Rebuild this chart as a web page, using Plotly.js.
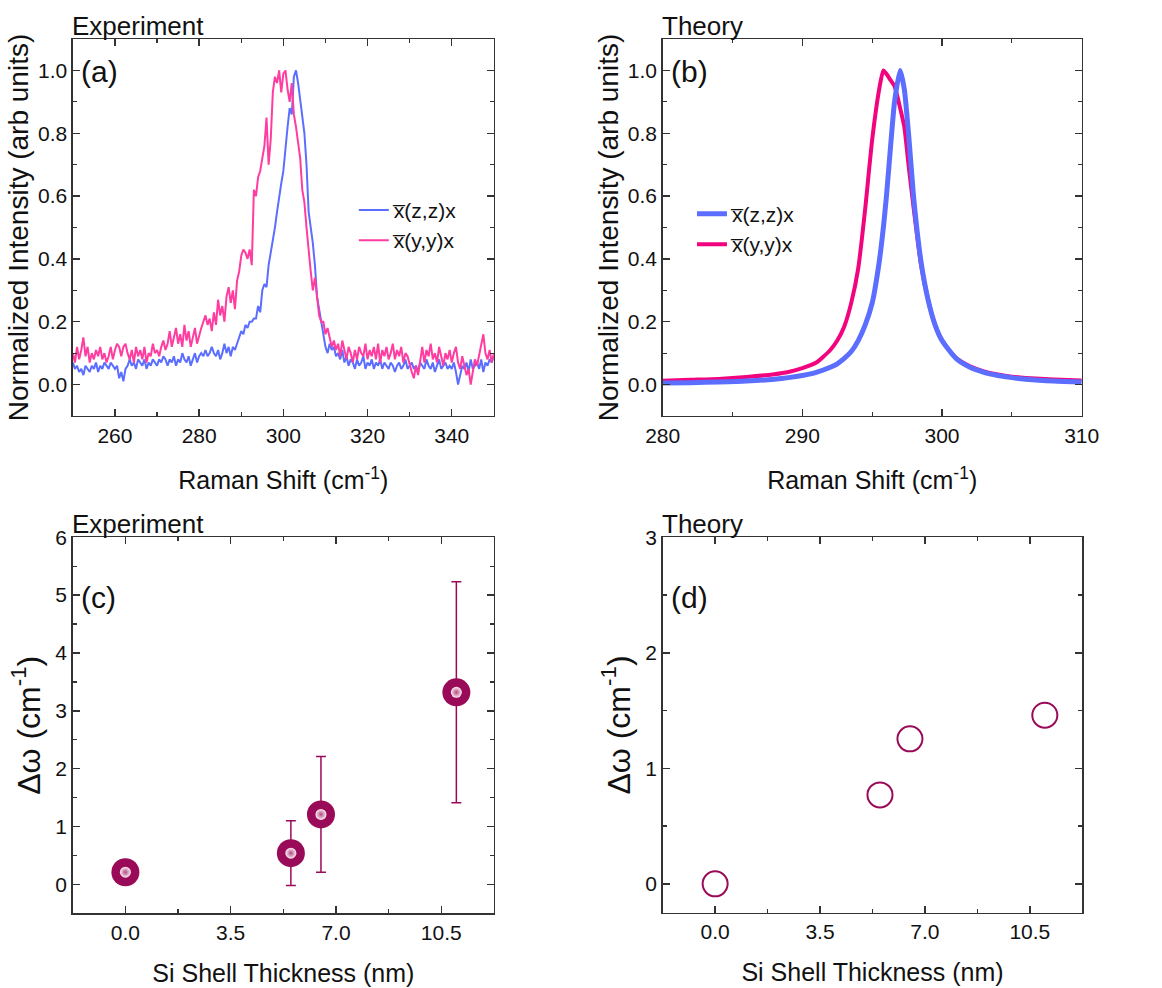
<!DOCTYPE html>
<html>
<head>
<meta charset="utf-8">
<script src="https://cdn.plot.ly/plotly-3.0.1.min.js"></script>
<style>html,body{margin:0;padding:0;background:#fff;}#chart{width:1162px;height:988px;}</style>
</head>
<body>
<div id="chart"></div>
<script>
// ---------- Panel (a): experiment spectra (0.5 cm-1 sampling, 250..350) ----------
const expStart = 250, expStep = 0.5;
const expZZ = [
0.07,0.05,0.06,0.04,0.05,0.03,0.06,0.05,0.04,0.06,0.05,0.07,0.04,0.06,0.05,0.07,0.06,0.05,0.07,0.06,0.05,
0.06,0.02,0.04,0.01,0.05,0.06,0.08,0.06,0.07,0.05,0.08,0.07,0.06,0.08,0.05,0.07,0.06,0.08,0.07,0.06,
0.08,0.07,0.09,0.08,0.06,0.08,0.07,0.09,0.06,0.08,0.07,0.10,0.08,0.07,0.09,0.06,0.08,0.10,0.07,0.09,
0.10,0.09,0.11,0.09,0.10,0.12,0.10,0.09,0.11,0.08,0.10,0.13,0.10,0.12,0.09,0.12,0.11,0.13,0.15,0.17,
0.16,0.19,0.18,0.20,0.20,0.21,0.21,0.25,0.23,0.30,0.32,0.31,0.38,0.42,0.45,0.50,0.55,0.60,0.64,0.68,
0.76,0.82,0.88,0.86,0.98,1.00,0.96,0.90,0.86,0.80,0.70,0.55,0.50,0.45,0.38,0.28,0.24,0.20,0.16,0.12,
0.10,0.13,0.11,0.12,0.09,0.10,0.08,0.11,0.07,0.09,0.06,0.08,0.07,0.05,0.08,0.06,0.07,0.09,0.05,0.07,
0.06,0.08,0.05,0.07,0.06,0.08,0.05,0.07,0.06,0.05,0.07,0.06,0.04,0.06,0.07,0.05,0.06,0.08,0.05,0.06,
0.07,0.05,0.06,0.04,0.07,0.06,0.05,0.08,0.06,0.05,0.07,0.04,0.06,0.08,0.05,0.06,0.07,0.05,0.06,0.05,
0.07,0.04,0.00,0.03,0.06,0.05,0.07,0.04,0.08,0.05,0.06,0.07,0.05,0.08,0.04,0.07,0.06,0.08,0.07,0.09
];
const expYY = [
0.10,0.07,0.12,0.08,0.11,0.15,0.09,0.12,0.07,0.10,0.08,0.11,0.09,0.12,0.08,0.10,0.07,0.09,0.12,0.08,0.11,
0.13,0.12,0.09,0.12,0.13,0.10,0.08,0.11,0.07,0.12,0.09,0.11,0.08,0.12,0.07,0.10,0.09,0.13,0.10,0.11,
0.09,0.12,0.14,0.11,0.13,0.17,0.12,0.15,0.18,0.13,0.16,0.12,0.19,0.14,0.17,0.12,0.15,0.18,0.13,0.16,
0.18,0.20,0.22,0.19,0.21,0.17,0.23,0.19,0.27,0.22,0.25,0.20,0.28,0.31,0.26,0.30,0.24,0.33,0.36,0.41,
0.43,0.42,0.40,0.43,0.38,0.62,0.60,0.66,0.68,0.72,0.76,0.85,0.70,0.78,0.93,0.98,0.96,1.00,0.93,0.99,
1.00,0.94,0.90,0.96,0.86,0.82,0.76,0.72,0.62,0.58,0.50,0.42,0.36,0.30,0.34,0.28,0.22,0.20,0.20,0.16,
0.18,0.15,0.12,0.14,0.11,0.13,0.09,0.14,0.11,0.08,0.12,0.10,0.07,0.11,0.08,0.12,0.10,0.09,0.13,0.08,
0.11,0.09,0.12,0.08,0.13,0.07,0.11,0.09,0.12,0.08,0.10,0.13,0.08,0.11,0.09,0.12,0.07,0.10,0.09,0.06,
0.04,0.02,0.06,0.03,0.08,0.12,0.07,0.11,0.09,0.13,0.08,0.10,0.07,0.12,0.09,0.06,0.10,0.08,0.11,0.07,
0.10,0.12,0.07,0.05,0.09,0.06,0.03,0.05,0.00,0.04,0.08,0.06,0.09,0.12,0.16,0.10,0.08,0.11,0.07,0.10
];
const expShift = expZZ.map((_, i) => expStart + i * expStep);

// ---------- Panel (b): theory spectra ----------
const theoryShift = [280,282,284,286,288,289,290,291,292,292.5,293,293.5,294,294.5,295,295.5,295.8,296,296.3,296.6,297,297.3,297.6,298,298.5,299,299.5,300,301,302,303,304,305,306,308,310];
const theoryZZ = [0.005,0.006,0.008,0.011,0.017,0.022,0.029,0.039,0.055,0.066,0.083,0.105,0.14,0.19,0.26,0.39,0.50,0.59,0.75,0.90,1.00,0.94,0.80,0.58,0.39,0.27,0.19,0.14,0.083,0.055,0.039,0.029,0.022,0.017,0.011,0.008];
const theoryYY = [0.012,0.015,0.018,0.024,0.033,0.040,0.052,0.070,0.110,0.140,0.185,0.26,0.37,0.56,0.78,0.94,1.00,0.99,0.97,0.95,0.88,0.82,0.70,0.55,0.38,0.27,0.19,0.14,0.085,0.058,0.042,0.032,0.025,0.021,0.016,0.013];

// ---------- Panels (c) & (d): shift vs shell thickness ----------
const shellExp = [0, 5.5, 6.5, 11.0];
const deltaExp = [0.21, 0.54, 1.21, 3.32];
const deltaExpErr = [0, 0.56, 1.0, 1.91];
const shellTheory = [0, 5.5, 6.5, 11.0];
const deltaTheory = [0.0, 0.77, 1.255, 1.46];

const legendZZ = 'x\u0305(z,z)x';
const legendYY = 'x\u0305(y,y)x';
const tickThick = ['0.0','3.5','7.0','10.5'];

const FONT = 'Arial, "Liberation Sans", sans-serif';
const BLUE = '#5b6eff';
const PINK_A = '#ff3ca0';
const PINK_B = '#f2047f';
const WINE = '#990a58';
const TXT = '#111';

const traces = [
  {x: expShift, y: expZZ, xaxis:'x', yaxis:'y', mode:'lines', name: legendZZ, line:{color:BLUE, width:2}, legend:'legend'},
  {x: expShift, y: expYY, xaxis:'x', yaxis:'y', mode:'lines', name: legendYY, line:{color:PINK_A, width:2}, legend:'legend'},
  {x: theoryShift, y: theoryYY, xaxis:'x2', yaxis:'y2', mode:'lines', name: legendYY, line:{color:PINK_B, width:4, shape:'spline', smoothing:0.6}, legend:'legend2', legendrank:2},
  {x: theoryShift, y: theoryZZ, xaxis:'x2', yaxis:'y2', mode:'lines', name: legendZZ, line:{color:BLUE, width:5, shape:'spline', smoothing:0.6}, legend:'legend2', legendrank:1},
  {x: shellExp, y: deltaExp, xaxis:'x3', yaxis:'y3', mode:'markers', showlegend:false,
   error_y:{type:'data', array: deltaExpErr, visible:true, color:WINE, thickness:1.5, width:5},
   marker:{size:28, color:WINE, line:{width:0}}},
  {x: shellExp, y: deltaExp, xaxis:'x3', yaxis:'y3', mode:'markers', showlegend:false, hoverinfo:'skip',
   marker:{size:11, color:'#fdeef5', gradient:{type:'radial', color:'#b24a82'}, line:{width:0}}},
  {x: shellTheory, y: deltaTheory, xaxis:'x4', yaxis:'y4', mode:'markers', showlegend:false,
   marker:{size:25, symbol:'circle-open', color:WINE, line:{width:2, color:WINE}}}
];

const MINOR = {ticks:'inside', ticklen:4, tickwidth:1.2, tickcolor:'#333', showgrid:false};
function axis(extra, minorExtra, titleText, titleSize, standoff){
  return Object.assign({
    showgrid:false, zeroline:false, showline:true, linecolor:'#333', linewidth:1.5,
    mirror:'allticks', ticks:'inside', ticklen:7, tickwidth:1.5, tickcolor:'#333',
    tickfont:{family:FONT, size:21, color:TXT},
    minor:Object.assign({}, MINOR, minorExtra),
    title:{text:titleText, standoff:standoff, font:{family:FONT, size:titleSize, color:TXT}}
  }, extra);
}

const RAMAN = 'Raman Shift (cm<sup>-1</sup>)';
const NORM = 'Normalized Intensity (arb units)';
const SHELL = 'Si Shell Thickness (nm)';
const DW = '\u0394\u03c9 (cm<sup>-1</sup>)';

const layout = {
  width:1162, height:988, margin:{l:0,r:0,t:0,b:0},
  paper_bgcolor:'#fff', plot_bgcolor:'#fff',
  font:{family:FONT, color:TXT},
  xaxis: axis({domain:[0.0627,0.4250], range:[250,350], tick0:260, dtick:20, anchor:'y'}, {dtick:10}, RAMAN, 25, 26),
  yaxis: axis({domain:[0.579,0.9605], range:[-0.1,1.1], tick0:0, dtick:0.2, tickformat:'.1f', anchor:'x'}, {dtick:0.1}, NORM, 28, 1),
  xaxis2: axis({domain:[0.5703,0.9309], range:[280,310], tick0:280, dtick:10, anchor:'y2'}, {dtick:5}, RAMAN, 25, 26),
  yaxis2: axis({domain:[0.579,0.9605], range:[-0.1,1.1], tick0:0, dtick:0.2, tickformat:'.1f', anchor:'x2'}, {dtick:0.1}, NORM, 28, 1),
  xaxis3: axis({domain:[0.0626,0.4251], range:[-1.75,12.25], tickvals:[0,3.5,7,10.5], ticktext:tickThick, anchor:'y3'}, {dtick:1.75, tick0:0}, SHELL, 25, 21),
  yaxis3: axis({domain:[0.0756,0.4562], range:[-0.5,6], tick0:0, dtick:1, anchor:'x3'}, {dtick:0.5}, DW, 32, 5),
  xaxis4: axis({domain:[0.5703,0.9314], range:[-1.75,12.25], tickvals:[0,3.5,7,10.5], ticktext:tickThick, anchor:'y4'}, {dtick:1.75, tick0:0}, SHELL, 25, 21),
  yaxis4: axis({domain:[0.0762,0.4562], range:[-0.25,3], tick0:0, dtick:1, anchor:'x4'}, {dtick:0.5}, DW, 32, 5),
  legend: {x:0.3045, y:0.772, xanchor:'left', yanchor:'middle', bgcolor:'rgba(0,0,0,0)', borderwidth:0,
    font:{family:FONT, size:21, color:TXT}},
  legend2: {x:0.5955, y:0.768, xanchor:'left', yanchor:'middle', bgcolor:'rgba(0,0,0,0)', borderwidth:0,
    font:{family:FONT, size:21, color:TXT}, traceorder:'normal'},
  annotations: [
    {text:'Experiment', xref:'x domain', yref:'y domain', x:0, y:1, xanchor:'left', yanchor:'bottom', showarrow:false, font:{family:FONT, size:26, color:TXT}, xshift:-3, yshift:-4},
    {text:'Theory', xref:'x2 domain', yref:'y2 domain', x:0, y:1, xanchor:'left', yanchor:'bottom', showarrow:false, font:{family:FONT, size:26, color:TXT}, xshift:-3, yshift:-4},
    {text:'Experiment', xref:'x3 domain', yref:'y3 domain', x:0, y:1, xanchor:'left', yanchor:'bottom', showarrow:false, font:{family:FONT, size:26, color:TXT}, xshift:-3, yshift:-4},
    {text:'Theory', xref:'x4 domain', yref:'y4 domain', x:0, y:1, xanchor:'left', yanchor:'bottom', showarrow:false, font:{family:FONT, size:26, color:TXT}, xshift:-3, yshift:-4},
    {text:'(a)', xref:'x domain', yref:'y domain', x:0.015, y:0.915, xanchor:'left', yanchor:'middle', showarrow:false, font:{family:FONT, size:30, color:TXT}},
    {text:'(b)', xref:'x2 domain', yref:'y2 domain', x:0.015, y:0.915, xanchor:'left', yanchor:'middle', showarrow:false, font:{family:FONT, size:30, color:TXT}},
    {text:'(c)', xref:'x3 domain', yref:'y3 domain', x:0.015, y:0.84, xanchor:'left', yanchor:'middle', showarrow:false, font:{family:FONT, size:30, color:TXT}},
    {text:'(d)', xref:'x4 domain', yref:'y4 domain', x:0.015, y:0.84, xanchor:'left', yanchor:'middle', showarrow:false, font:{family:FONT, size:30, color:TXT}}
  ]
};

Plotly.newPlot('chart', traces, layout, {displayModeBar:false, staticPlot:true});
</script>
</body>
</html>
